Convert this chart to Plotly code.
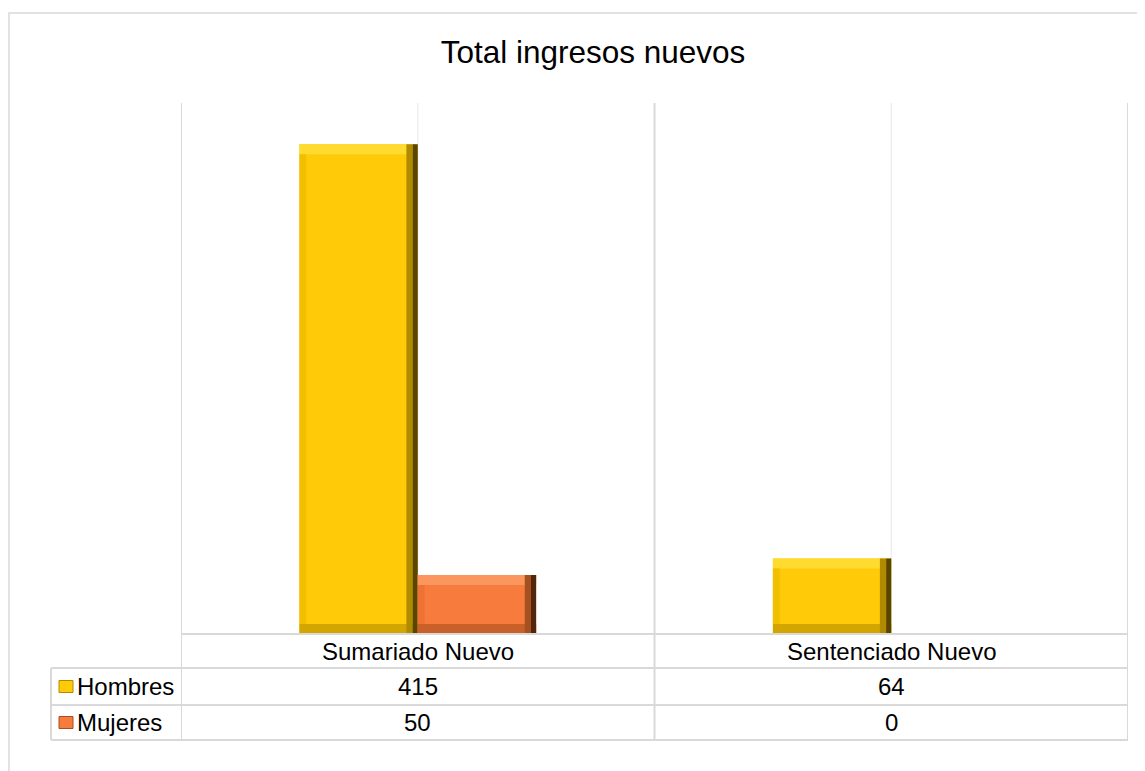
import plotly.graph_objects as go

# ---------------- data ----------------
categories = ["Sumariado Nuevo", "Sentenciado Nuevo"]
series_names = ["Hombres", "Mujeres"]
hombres = [415, 64]
mujeres = [50, 0]
chart_title = "Total ingresos nuevos"

# ---------------- style ----------------
FONT = "Liberation Sans, Arial, sans-serif"
TXT = "#000000"
GRID_MAJOR = "#d9d9d9"
GRID_MINOR = "#efefef"
fills = {
    "Hombres": dict(main="#FFCA08", top="#FFDB30", bottom="#D2A500", left="#F2BE00", right_in="#B08A00", right_out="#5A4500"),
    "Mujeres": dict(main="#F77B3C", top="#FA965E", bottom="#C9602A", left="#EE7234", right_in="#A5501F", right_out="#52250C"),
}

OFF = 8                      # page body margin
W, H = 1145 - OFF, 771 - OFF
# plot area in page pixels
L, R, T, B = 181, 1128, 103, 634
YMAX = 450
BAR_W = 0.25           # category units
BEV_X = 0.024          # bevel width (category units)
BEV_Y = 8.5            # bevel height (value units)


def pxx(x):
    return (x - L) / (R - L)


def pxy(y):
    return (B - y) / (B - T)


fig = go.Figure()
xs = list(range(len(categories)))
offsets = [-BAR_W, 0.0]

for name, vals, off in zip(series_names, [hombres, mujeres], offsets):
    c = fills[name]
    common = dict(x=xs, width=BAR_W, hoverinfo="skip", showlegend=False,
                  marker_line_width=0)
    # main body
    fig.add_trace(go.Bar(name=name, y=vals, offset=off, marker_color=c["main"],
                         width=BAR_W, x=xs, showlegend=False, marker_line_width=0,
                         hovertemplate=name + " %{x}: %{y}<extra></extra>"))
    # bottom bevel
    fig.add_trace(go.Bar(y=[min(BEV_Y, v) for v in vals], base=[0 for v in vals],
                         offset=off, marker_color=c["bottom"], **common))
    # top bevel
    fig.add_trace(go.Bar(y=[min(BEV_Y, v) for v in vals],
                         base=[v - min(BEV_Y, v) for v in vals],
                         offset=off, marker_color=c["top"], **common))
    # left bevel
    fig.add_trace(go.Bar(x=xs, y=[max(v - 2 * BEV_Y, 0) if v > 0 else 0 for v in vals],
                         base=[BEV_Y for v in vals], offset=off, width=BEV_X * 0.6,
                         marker_color=c["left"], hoverinfo="skip", showlegend=False,
                         marker_line_width=0))
    # right bevel (inner, outer)
    fig.add_trace(go.Bar(x=xs, y=vals, offset=off + BAR_W - BEV_X, width=BEV_X * 0.55,
                         marker_color=c["right_in"], hoverinfo="skip", showlegend=False,
                         marker_line_width=0))
    fig.add_trace(go.Bar(x=xs, y=vals, offset=off + BAR_W - BEV_X * 0.45, width=BEV_X * 0.45,
                         marker_color=c["right_out"], hoverinfo="skip", showlegend=False,
                         marker_line_width=0))

shapes = []
# outer chart border
shapes.append(dict(type="rect", xref="paper", yref="paper",
                   x0=pxx(OFF + 1), x1=pxx(1182), y0=pxy(790), y1=pxy(13),
                   line=dict(color=GRID_MAJOR, width=1.5), fillcolor="rgba(0,0,0,0)", layer="below"))
# minor gridlines at category centres
for i in xs:
    shapes.append(dict(type="line", xref="x", yref="paper", x0=i, x1=i, y0=0, y1=1,
                       line=dict(color=GRID_MINOR, width=1.5), layer="below"))
# major gridlines at category boundaries, extended through table
for b in [i - 0.5 for i in xs] + [xs[-1] + 0.5]:
    shapes.append(dict(type="line", xref="x", yref="paper", x0=b, x1=b, y0=pxy(740), y1=1,
                       line=dict(color=GRID_MAJOR, width=2), layer="below"))
# table horizontal lines
shapes.append(dict(type="line", xref="paper", yref="paper", x0=0, x1=1, y0=0, y1=0,
                   line=dict(color=GRID_MAJOR, width=2)))
for yy in [668, 705, 740]:
    shapes.append(dict(type="line", xref="paper", yref="paper", x0=pxx(51), x1=1,
                       y0=pxy(yy), y1=pxy(yy), line=dict(color=GRID_MAJOR, width=2)))
shapes.append(dict(type="line", xref="paper", yref="paper", x0=pxx(51), x1=pxx(51),
                   y0=pxy(740), y1=pxy(668), line=dict(color=GRID_MAJOR, width=2)))

annotations = []
row_centers = [686.5, 722.5]
for name, vals, yc in zip(series_names, [hombres, mujeres], row_centers):
    c = fills[name]
    # legend key
    shapes.append(dict(type="rect", xref="paper", yref="paper",
                       x0=pxx(59), x1=pxx(73), y0=pxy(yc + 6), y1=pxy(yc - 6),
                       fillcolor=c["main"], line=dict(color=c["right_in"], width=1)))
    annotations.append(dict(text=name, xref="paper", yref="paper", x=pxx(75), y=pxy(yc),
                            xanchor="left", yanchor="middle", showarrow=False,
                            font=dict(family=FONT, size=24, color=TXT)))
    for i, v in zip(xs, vals):
        annotations.append(dict(text=str(v), xref="x", yref="paper", x=i, y=pxy(yc),
                                xanchor="center", yanchor="middle", showarrow=False,
                                font=dict(family=FONT, size=24, color=TXT)))
for i, cat in zip(xs, categories):
    annotations.append(dict(text=cat, xref="x", yref="paper", x=i, y=pxy(651),
                            xanchor="center", yanchor="middle", showarrow=False,
                            font=dict(family=FONT, size=24, color=TXT)))

fig.update_layout(
    width=W, height=H, autosize=False,
    margin=dict(l=L - OFF, r=W - (R - OFF), t=T - OFF, b=H - (B - OFF)),
    paper_bgcolor="white", plot_bgcolor="white",
    barmode="overlay",
    title=dict(text=chart_title, x=(593 - OFF) / W, xref="container", xanchor="center",
               y=1 - (52 - OFF) / H, yref="container", yanchor="middle",
               font=dict(family=FONT, size=31.5, color=TXT)),
    xaxis=dict(type="linear", range=[-0.5, len(categories) - 0.5], showticklabels=False,
               showgrid=False, zeroline=False, showline=False, ticks=""),
    yaxis=dict(range=[0, YMAX], showticklabels=False, showgrid=False, zeroline=False,
               showline=False, ticks=""),
    shapes=shapes, annotations=annotations, showlegend=False,
)

fig.write_html("out.html")
